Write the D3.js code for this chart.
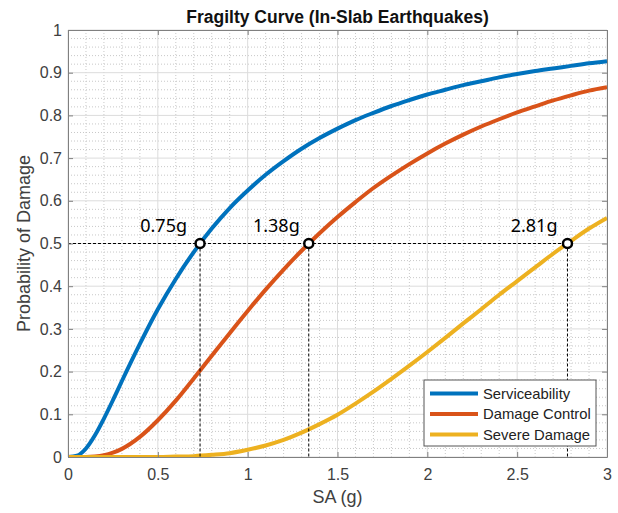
<!DOCTYPE html>
<meta charset="utf-8">
<script src="https://d3js.org/d3.v7.min.js"></script>
<style>
  body { margin: 0; background: #fff; }
  text { font-family: "Liberation Sans", Arial, sans-serif; }
</style>
<div id="my_dataviz"></div>
<script>

// spectral acceleration (g) sample points
var sa = [0, 0.05, 0.1, 0.15, 0.2, 0.25, 0.3, 0.4, 0.5, 0.6, 0.7, 0.8, 0.9, 1.0,
          1.1, 1.2, 1.3, 1.4, 1.5, 1.6, 1.7, 1.8, 1.9, 2.0, 2.1, 2.2, 2.3, 2.4,
          2.5, 2.6, 2.7, 2.8, 2.9, 3.0];

var serviceability = [0, 0.003, 0.020, 0.051, 0.090, 0.133, 0.178, 0.265, 0.346, 0.417,
          0.480, 0.535, 0.583, 0.624, 0.661, 0.693, 0.722, 0.747, 0.769, 0.789,
          0.806, 0.822, 0.836, 0.849, 0.860, 0.871, 0.880, 0.889, 0.897, 0.904,
          0.910, 0.916, 0.922, 0.927];

var damageControl = [0, 0, 0, 0.001, 0.004, 0.010, 0.019, 0.047, 0.086, 0.132,
          0.184, 0.237, 0.290, 0.342, 0.392, 0.439, 0.483, 0.524, 0.562, 0.597,
          0.630, 0.659, 0.686, 0.711, 0.734, 0.755, 0.774, 0.791, 0.807, 0.821,
          0.835, 0.847, 0.858, 0.866];

var severeDamage = [0, 0, 0, 0, 0, 0, 0, 0, 0, 0.001,
          0.002, 0.005, 0.009, 0.017, 0.027, 0.040, 0.057, 0.077, 0.099, 0.125,
          0.153, 0.183, 0.214, 0.246, 0.279, 0.313, 0.346, 0.380, 0.412, 0.444,
          0.476, 0.506, 0.535, 0.560];

var seriesNames = ["Serviceability", "Damage Control", "Severe Damage"];
var seriesColors = ["#0072BD", "#D95319", "#EDB120"];

// 50% points marked on the chart
var medianSA = [0.735, 1.34, 2.78];
var medianLabels = ["0.75g", "1.38g", "2.81g"];
var medianProb = 0.5;

var xTicks = [0, 0.5, 1, 1.5, 2, 2.5, 3];
var yTicks = [0, 0.1, 0.2, 0.3, 0.4, 0.5, 0.6, 0.7, 0.8, 0.9, 1];

var margin = {top: 30, right: 11, bottom: 56, left: 68},
    width = 618 - margin.left - margin.right,
    height = 513 - margin.top - margin.bottom;

var root = d3.select("#my_dataviz")
  .append("svg")
    .attr("width", 618)
    .attr("height", 513);

var svg = root.append("g")
    .attr("transform", "translate(" + margin.left + "," + margin.top + ")");

var x = d3.scaleLinear().domain([0, 3]).range([0, width]);
var y = d3.scaleLinear().domain([0, 1]).range([height, 0]);

// minor grid (dotted)
var xMinor = d3.range(0, 3.001, 0.1).filter(function(v){ return Math.abs(v*2 - Math.round(v*2)) > 1e-6; });
var yMinor = d3.range(0, 1.001, 0.02).filter(function(v){ return Math.abs(v*10 - Math.round(v*10)) > 1e-6; });

var grid = svg.append("g");
grid.selectAll(".vminor").data(xMinor).enter().append("line")
  .attr("x1", function(d){ return x(d); }).attr("x2", function(d){ return x(d); })
  .attr("y1", 0).attr("y2", height)
  .attr("stroke", "#c8c8c8").attr("stroke-width", 1).attr("stroke-dasharray", "1,2");
grid.selectAll(".hminor").data(yMinor).enter().append("line")
  .attr("x1", 0).attr("x2", width)
  .attr("y1", function(d){ return y(d); }).attr("y2", function(d){ return y(d); })
  .attr("stroke", "#c8c8c8").attr("stroke-width", 1).attr("stroke-dasharray", "1,2");

// major grid
grid.selectAll(".vmajor").data(xTicks).enter().append("line")
  .attr("x1", function(d){ return x(d); }).attr("x2", function(d){ return x(d); })
  .attr("y1", 0).attr("y2", height)
  .attr("stroke", "#dcdcdc").attr("stroke-width", 1);
grid.selectAll(".hmajor").data(yTicks).enter().append("line")
  .attr("x1", 0).attr("x2", width)
  .attr("y1", function(d){ return y(d); }).attr("y2", function(d){ return y(d); })
  .attr("stroke", "#dcdcdc").attr("stroke-width", 1);

// curves
svg.append("clipPath").attr("id", "plotclip")
  .append("rect").attr("width", width).attr("height", height);

var line = d3.line()
  .x(function(d){ return x(d[0]); })
  .y(function(d){ return y(d[1]); })
  .curve(d3.curveMonotoneX);

var allSeries = [serviceability, damageControl, severeDamage];
svg.append("g").attr("clip-path", "url(#plotclip)")
  .selectAll("path")
  .data(allSeries)
  .enter().append("path")
    .attr("d", function(s){ return line(sa.map(function(v, i){ return [v, s[i]]; })); })
    .attr("fill", "none")
    .attr("stroke", function(d, i){ return seriesColors[i]; })
    .attr("stroke-width", 4)
    .attr("stroke-linejoin", "round");

// dashed guides at 50%
var guides = svg.append("g")
  .attr("stroke", "#000").attr("stroke-width", 1).attr("stroke-dasharray", "3,2").attr("fill", "none");
guides.append("line")
  .attr("x1", x(0)).attr("x2", x(d3.max(medianSA)))
  .attr("y1", y(medianProb)).attr("y2", y(medianProb));
guides.selectAll(".vguide").data(medianSA).enter().append("line")
  .attr("x1", function(d){ return x(d); }).attr("x2", function(d){ return x(d); })
  .attr("y1", y(medianProb)).attr("y2", y(0));

// axes (box with inward ticks)
function styleAxis(g) {
  g.select(".domain").attr("stroke", "#808080");
  g.selectAll(".tick line").attr("stroke", "#808080");
  g.selectAll(".tick text").attr("fill", "#404040").style("font-size", "16px")
    .style("font-family", "'Liberation Sans', Arial, sans-serif");
}
svg.append("g").attr("transform", "translate(0," + height + ")")
  .call(d3.axisBottom(x).tickValues(xTicks).tickFormat(d3.format("~g"))
        .tickSizeInner(-5).tickSizeOuter(0).tickPadding(12))
  .call(styleAxis);
svg.append("g")
  .call(d3.axisLeft(y).tickValues(yTicks).tickFormat(d3.format("~g"))
        .tickSizeInner(-5).tickSizeOuter(0).tickPadding(6))
  .call(styleAxis);
svg.append("g")
  .call(d3.axisTop(x).tickValues(xTicks).tickFormat("")
        .tickSizeInner(-5).tickSizeOuter(0))
  .call(styleAxis);
svg.append("g").attr("transform", "translate(" + width + ",0)")
  .call(d3.axisRight(y).tickValues(yTicks).tickFormat("")
        .tickSizeInner(-5).tickSizeOuter(0))
  .call(styleAxis);

// markers and labels
svg.append("g").selectAll("circle").data(medianSA).enter().append("circle")
  .attr("cx", function(d){ return x(d); })
  .attr("cy", y(medianProb))
  .attr("r", 4.5)
  .attr("fill", "#fff").attr("stroke", "#000").attr("stroke-width", 2.5);

var labelDx = [-13, -9, -10];
svg.append("g").selectAll("text").data(medianSA).enter().append("text")
  .attr("x", function(d, i){ return x(d) + labelDx[i]; })
  .attr("y", y(medianProb) - 12)
  .attr("text-anchor", "end")
  .style("font-family", "'Noto Sans', 'Open Sans', sans-serif")
  .style("font-size", "18px")
  .attr("fill", "#000")
  .text(function(d, i){ return medianLabels[i]; });

// titles
root.append("text")
  .attr("x", margin.left + width / 2).attr("y", 23)
  .attr("text-anchor", "middle")
  .style("font-size", "17.5px").style("font-weight", "bold")
  .attr("fill", "#111")
  .text("Fragilty Curve (In-Slab Earthquakes)");

root.append("text")
  .attr("x", margin.left + width / 2).attr("y", 503)
  .attr("text-anchor", "middle")
  .style("font-size", "18px")
  .attr("fill", "#404040")
  .text("SA (g)");

root.append("text")
  .attr("transform", "translate(30," + (margin.top + height / 2) + ") rotate(-90)")
  .attr("text-anchor", "middle")
  .style("font-size", "18px")
  .attr("fill", "#404040")
  .text("Probability of Damage");

// legend
var legend = svg.append("g").attr("transform", "translate(356,350)");
legend.append("rect")
  .attr("width", 172).attr("height", 66)
  .attr("fill", "#fff").attr("stroke", "#555").attr("stroke-width", 1);
var rows = legend.selectAll(".row").data(seriesNames).enter().append("g")
  .attr("transform", function(d, i){ return "translate(0," + (13.5 + i * 20.5) + ")"; });
rows.append("line")
  .attr("x1", 6).attr("x2", 54).attr("y1", 0).attr("y2", 0)
  .attr("stroke", function(d, i){ return seriesColors[i]; })
  .attr("stroke-width", 4);
rows.append("text")
  .attr("x", 59).attr("dy", "0.35em")
  .style("font-size", "14.8px")
  .attr("fill", "#222")
  .text(function(d){ return d; });

</script>
